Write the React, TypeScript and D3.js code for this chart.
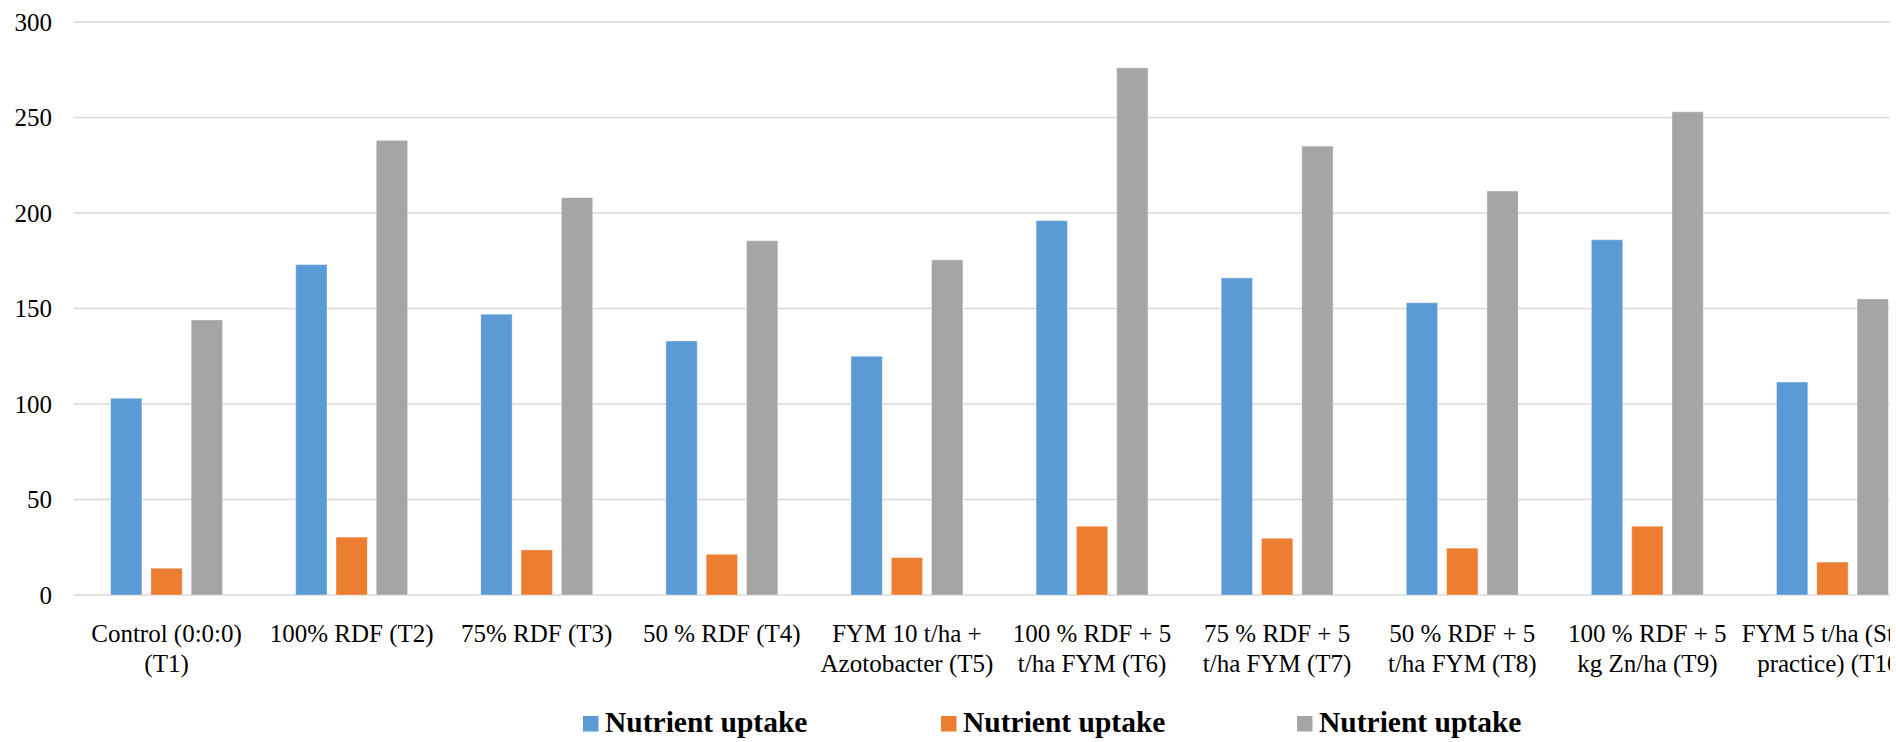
import React, { useEffect } from "react";
import * as d3 from "d3";

const categories: string[][] = [
  ["Control (0:0:0)", "(T1)"],
  ["100% RDF (T2)"],
  ["75% RDF (T3)"],
  ["50 % RDF (T4)"],
  ["FYM 10 t/ha +", "Azotobacter (T5)"],
  ["100 % RDF + 5", "t/ha FYM (T6)"],
  ["75 % RDF + 5", "t/ha FYM (T7)"],
  ["50 % RDF + 5", "t/ha FYM (T8)"],
  ["100 % RDF + 5", "kg Zn/ha (T9)"],
  ["FYM 5 t/ha (State", "practice) (T10)"],
];

const seriesBlue: number[] = [103, 173, 147, 133, 125, 196, 166, 153, 186, 111.5];
const seriesOrange: number[] = [14, 30.3, 23.6, 21.3, 19.6, 36, 29.7, 24.5, 36, 17.2];
const seriesGray: number[] = [144, 238, 208, 185.5, 175.5, 276, 235, 211.5, 253, 155];

const seriesNames: string[] = ["Nutrient uptake", "Nutrient uptake", "Nutrient uptake"];
const seriesColors: string[] = ["#5B9BD5", "#ED7D31", "#A5A5A5"];
const yTicks: number[] = [0, 50, 100, 150, 200, 250, 300];

const W = 1896;
const H = 742;

export default function App() {
  useEffect(() => {
    document.body.style.margin = "0";
  }, []);

  const ids = categories.map((_, i) => "c" + i);
  const x = d3.scaleBand<string>().domain(ids).range([74, 74 + 10 * 185.1]).padding(0);
  const keys = ["s0", "s1", "s2"];
  const xs = d3
    .scaleBand<string>()
    .domain(keys)
    .range([-60.45, 60.45])
    .paddingInner(0.223)
    .paddingOuter(0.1115);
  const y = d3.scaleLinear().domain([0, 300]).range([595, 22]);
  const all = [seriesBlue, seriesOrange, seriesGray];
  const font = '"Liberation Serif", "Times New Roman", serif';
  const legendX = [583, 941, 1297];

  return (
    <div style={{ position: "absolute", left: 0, top: 0 }}>
      <svg width={W} height={H} style={{ display: "block", background: "#fff" }}>
        <defs>
          <clipPath id="clipR">
            <rect x={0} y={0} width={1890} height={H} />
          </clipPath>
        </defs>
        <rect x={0} y={0} width={W} height={H} fill="#fff" />
        <g clipPath="url(#clipR)">
          {yTicks.map((t) => (
            <line
              key={"g" + t}
              x1={74}
              x2={1925}
              y1={y(t)}
              y2={y(t)}
              stroke="#D9D9D9"
              strokeWidth={1.5}
            />
          ))}
          {ids.map((id, i) => {
            const cx = (x(id) as number) + x.bandwidth() / 2;
            return (
              <g key={id}>
                {all.map((s, k) => (
                  <rect
                    key={k}
                    x={cx + (xs(keys[k]) as number)}
                    y={y(s[i])}
                    width={xs.bandwidth()}
                    height={y(0) - y(s[i])}
                    fill={seriesColors[k]}
                    stroke="#ffffff"
                    strokeOpacity={0.35}
                    strokeWidth={1}
                  />
                ))}
                <text
                  x={cx}
                  y={642}
                  textAnchor="middle"
                  style={{ fontFamily: font, fontSize: 25 }}
                  fill="#000"
                >
                  {categories[i].map((ln, j) => (
                    <tspan key={j} x={cx} dy={j === 0 ? 0 : 29.5}>
                      {ln}
                    </tspan>
                  ))}
                </text>
              </g>
            );
          })}
        </g>
        {yTicks.map((t) => (
          <text
            key={"t" + t}
            x={52}
            y={y(t)}
            dy="0.35em"
            textAnchor="end"
            style={{ fontFamily: font, fontSize: 25 }}
            fill="#000"
          >
            {t}
          </text>
        ))}
        {seriesNames.map((n, k) => (
          <g key={"l" + k}>
            <rect x={legendX[k]} y={716} width={15.5} height={15.5} fill={seriesColors[k]} />
            <text
              x={legendX[k] + 22}
              y={731.5}
              style={{ fontFamily: font, fontSize: 29.5, fontWeight: "bold" }}
              fill="#000"
            >
              {n}
            </text>
          </g>
        ))}
      </svg>
    </div>
  );
}
